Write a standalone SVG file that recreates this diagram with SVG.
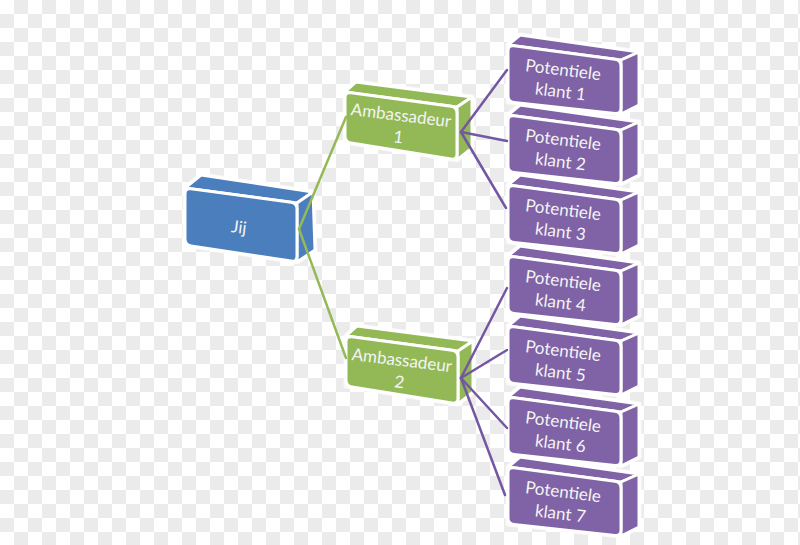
<svg xmlns="http://www.w3.org/2000/svg" xmlns:xlink="http://www.w3.org/1999/xlink" width="800" height="545" viewBox="0 0 800 545">
<defs>
<pattern id="checker" x="0" y="0" width="28" height="28" patternUnits="userSpaceOnUse">
<rect width="28" height="28" fill="#ffffff"/>
<rect x="14" y="0" width="14" height="14" fill="#ebebeb"/>
<rect x="0" y="14" width="14" height="14" fill="#ebebeb"/>
</pattern>
<g id="boxJij">
<path class="halo" d="M0,0 L16,-13 L128,4 L130,62 L112,74 L0,57 Z"/>
<path class="face" d="M0,0 L16,-13 L128,4 L112,15 Z"/>
<path class="face" d="M112,15 L128,4 L130,62 L112,74 Z"/>
<path class="face" d="M0,6 Q0,0 6,0.8 L106,14.2 Q112,15 112,21 L112,68 Q112,74 106,73.1 L6,57.9 Q0,57 0,51 Z"/>
</g>
<g id="boxAmb">
<path class="halo" d="M0,0 L11,-10 L127,5 L127,56 L112,68 L0,50 Z"/>
<path class="face" d="M0,0 L11,-10 L127,5 L112,15 Z"/>
<path class="face" d="M112,15 L127,5 L127,56 L112,68 Z"/>
<path class="face" d="M0,6 Q0,0 6,0.8 L106,14.2 Q112,15 112,21 L112,62 Q112,68 106,67 L6,51 Q0,50 0,44 Z"/>
</g>
<g id="boxKlant">
<path class="halo" d="M0,0 L12,-10 L131,7 L131,60 L113,69 L0,57 Z"/>
<path class="face" d="M0,0 L12,-10 L131,7 L113,15 Z"/>
<path class="face" d="M113,15 L131,7 L131,60 L113,69 Z"/>
<path class="face" d="M0,6 Q0,0 6,0.8 L107,14.2 Q113,15 113,21 L113,63 Q113,69 107,68.4 L6,57.6 Q0,57 0,51 Z"/>
</g>
</defs>
<style>
.halo { fill: #ffffff; stroke: #ffffff; stroke-width: 5; stroke-linejoin: round; opacity: 0.7; }
.face { stroke: #ffffff; stroke-width: 3; stroke-linejoin: round; }
.blue { fill: #4a7ebd; }
.green { fill: #93b956; }
.purple { fill: #7f63a6; }
.lbl { font-family: Lato, "Open Sans", sans-serif; font-size: 17px; fill: #f4f4f4; text-anchor: middle; }
.cg { stroke: #95b957; stroke-width: 2.5; fill: none; stroke-linecap: round; }
.cp { stroke: #7457a3; stroke-width: 2.5; fill: none; stroke-linecap: round; }
</style>
<rect width="800" height="545" fill="url(#checker)"/>

<g id="jij" class="blue" transform="translate(185,188)">
<use xlink:href="#boxJij"/>
<g transform="rotate(7 54 40)"><text class="lbl" x="54" y="45">Jij</text></g>
</g>

<g id="ambassadeur1" class="green" transform="translate(345,92)">
<use xlink:href="#boxAmb"/>
<g transform="rotate(7 54 40)"><text class="lbl" x="54" y="29">Ambassadeur</text><text class="lbl" x="54" y="51">1</text></g>
</g>

<g id="ambassadeur2" class="green" transform="translate(346,336)">
<use xlink:href="#boxAmb"/>
<g transform="rotate(7 54 40)"><text class="lbl" x="54" y="30">Ambassadeur</text><text class="lbl" x="54" y="52">2</text></g>
</g>

<g id="klant1" class="purple" transform="translate(508,45)">
<use xlink:href="#boxKlant"/>
<g transform="rotate(7 53 42)"><text class="lbl" x="53" y="30.5">Potentiele</text><text class="lbl" x="53" y="52.5">klant 1</text></g>
</g>
<g id="klant2" class="purple" transform="translate(508,115)">
<use xlink:href="#boxKlant"/>
<g transform="rotate(7 53 42)"><text class="lbl" x="53" y="30.5">Potentiele</text><text class="lbl" x="53" y="52.5">klant 2</text></g>
</g>
<g id="klant3" class="purple" transform="translate(508,185)">
<use xlink:href="#boxKlant"/>
<g transform="rotate(7 53 42)"><text class="lbl" x="53" y="30.5">Potentiele</text><text class="lbl" x="53" y="52.5">klant 3</text></g>
</g>
<g id="klant4" class="purple" transform="translate(508,256)">
<use xlink:href="#boxKlant"/>
<g transform="rotate(7 53 42)"><text class="lbl" x="53" y="30.5">Potentiele</text><text class="lbl" x="53" y="52.5">klant 4</text></g>
</g>
<g id="klant5" class="purple" transform="translate(508,326)">
<use xlink:href="#boxKlant"/>
<g transform="rotate(7 53 42)"><text class="lbl" x="53" y="30.5">Potentiele</text><text class="lbl" x="53" y="52.5">klant 5</text></g>
</g>
<g id="klant6" class="purple" transform="translate(508,397)">
<use xlink:href="#boxKlant"/>
<g transform="rotate(7 53 42)"><text class="lbl" x="53" y="30.5">Potentiele</text><text class="lbl" x="53" y="52.5">klant 6</text></g>
</g>
<g id="klant7" class="purple" transform="translate(508,467)">
<use xlink:href="#boxKlant"/>
<g transform="rotate(7 53 42)"><text class="lbl" x="53" y="30.5">Potentiele</text><text class="lbl" x="53" y="52.5">klant 7</text></g>
</g>

<g id="connectors">
<line class="cg" x1="299" y1="229" x2="346" y2="117"/>
<line class="cg" x1="299" y1="229" x2="346" y2="358"/>
<line class="cp" x1="461" y1="132" x2="507" y2="70"/>
<line class="cp" x1="461" y1="132" x2="507" y2="141"/>
<line class="cp" x1="461" y1="132" x2="506" y2="208"/>
<line class="cp" x1="461" y1="378" x2="507" y2="288"/>
<line class="cp" x1="461" y1="378" x2="507" y2="350"/>
<line class="cp" x1="461" y1="378" x2="507" y2="428"/>
<line class="cp" x1="461" y1="378" x2="505" y2="495"/>
</g>
</svg>
